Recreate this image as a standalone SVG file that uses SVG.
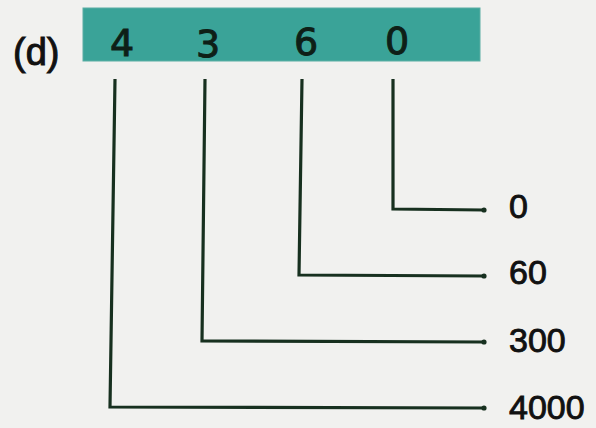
<svg xmlns="http://www.w3.org/2000/svg" width="596" height="428" viewBox="0 0 596 428">
  <defs>
    <style>
      .bg { fill: #f1f1ef; }
      .bar { fill: #3aa398; stroke: #5aaea4; stroke-width: 1; }
      .digit { font-family: "DejaVu Sans", "Liberation Sans", sans-serif; font-size: 38px; fill: #0e1f17; text-anchor: middle; stroke: #0e1f17; stroke-width: 1; }
      .label { font-family: "Liberation Sans", Arial, sans-serif; font-size: 34px; fill: #111111; stroke: #111111; stroke-width: 0.9; }
      .tag { font-family: "Liberation Sans", Arial, sans-serif; font-size: 38px; fill: #111111; stroke: #111111; stroke-width: 1; }
      .conn { fill: none; stroke: #17301f; stroke-width: 3.2; stroke-linejoin: miter; marker-end: url(#dot); }
    </style>
    <marker id="dot" viewBox="0 0 6 6" refX="3" refY="3" markerWidth="6" markerHeight="6" markerUnits="userSpaceOnUse">
      <circle cx="3" cy="3" r="2.6" fill="#17301f"/>
    </marker>
  </defs>
  <rect class="bg" x="0" y="0" width="596" height="428"/>

  <g id="tag-d">
    <text class="tag" x="13" y="65">(d)</text>
  </g>

  <g id="number-bar">
    <rect class="bar" x="83" y="8" width="397" height="53"/>
    <text class="digit" x="122" y="56">4</text>
    <text class="digit" x="208" y="57">3</text>
    <text class="digit" x="306" y="55">6</text>
    <text class="digit" x="397" y="54">0</text>
  </g>

  <g id="connectors">
    <polyline class="conn" points="393,79 393,209 484,210"/>
    <polyline class="conn" points="302,79 299,275 484,276"/>
    <polyline class="conn" points="205,79 202,341 484,342"/>
    <polyline class="conn" points="115,79 110,407 484,408"/>
  </g>

  <g id="value-0"><text class="label" x="509" y="218">0</text></g>
  <g id="value-60"><text class="label" x="509" y="284">60</text></g>
  <g id="value-300"><text class="label" x="509" y="352">300</text></g>
  <g id="value-4000"><text class="label" x="509" y="419">4000</text></g>
</svg>
